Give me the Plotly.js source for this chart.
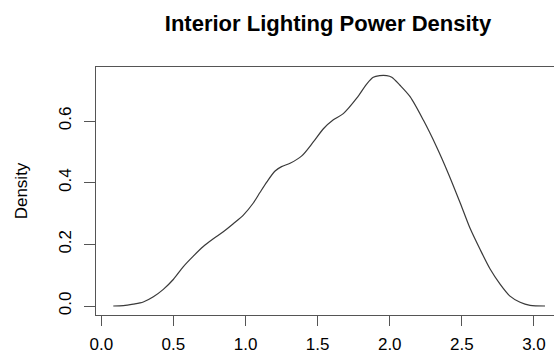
<!DOCTYPE html>
<html>
<head>
<meta charset="utf-8">
<script src="https://cdn.plot.ly/plotly-3.0.1.min.js"></script>
<style>html,body{margin:0;padding:0;background:#fff;overflow:hidden}</style>
</head>
<body>
<div id="chart" style="width:554px;height:358px"></div>
<script>
const chartTitle = "Interior Lighting Power Density";
const yTitle = "Density";
const xTickVals = [0, 0.5, 1, 1.5, 2, 2.5, 3];
const xTickText = ["0.0", "0.5", "1.0", "1.5", "2.0", "2.5", "3.0"];
const yTickVals = [0, 0.2, 0.4, 0.6];
const yTickText = ["0.0", "0.2", "0.4", "0.6"];
const densityX = [0.083, 0.153, 0.222, 0.291, 0.361, 0.430, 0.499, 0.569, 0.638, 0.707, 0.777, 0.846, 0.915, 0.985, 1.054, 1.100, 1.147, 1.205, 1.250, 1.309, 1.390, 1.470, 1.540, 1.609, 1.678, 1.771, 1.840, 1.886, 1.930, 1.979, 2.014, 2.071, 2.141, 2.233, 2.326, 2.406, 2.488, 2.557, 2.626, 2.696, 2.765, 2.834, 2.904, 2.973, 3.077];
const densityY = [0, 0.001, 0.006, 0.013, 0.030, 0.054, 0.086, 0.128, 0.162, 0.193, 0.218, 0.241, 0.267, 0.295, 0.334, 0.368, 0.402, 0.438, 0.452, 0.463, 0.487, 0.532, 0.575, 0.604, 0.624, 0.674, 0.720, 0.742, 0.747, 0.747, 0.742, 0.716, 0.679, 0.603, 0.515, 0.430, 0.335, 0.252, 0.184, 0.120, 0.071, 0.032, 0.012, 0.002, 0];

const font = "Liberation Sans, Arial, Helvetica, sans-serif";
const trace = {
  x: densityX, y: densityY, type: "scatter", mode: "lines",
  line: {color: "#3a3a3a", width: 1.2, shape: "spline", smoothing: 0.8},
  hoverinfo: "skip"
};
const layout = {
  width: 554, height: 358,
  margin: {l: 96, r: 0, t: 67, b: 43, pad: 0},
  paper_bgcolor: "#fff", plot_bgcolor: "#fff",
  showlegend: false,
  font: {family: font, size: 17, color: "#000"},
  title: {
    text: "<b>" + chartTitle + "</b>",
    font: {family: font, size: 22, color: "#000"},
    x: 328 / 554, xref: "container", xanchor: "center",
    y: 1 - 23 / 358, yref: "container", yanchor: "middle"
  },
  xaxis: {
    range: [-0.0368, 3.139], tickvals: xTickVals, ticktext: xTickText,
    showgrid: false, zeroline: false, showline: true, mirror: true,
    linecolor: "#555", linewidth: 1,
    ticks: "outside", ticklen: 10, tickcolor: "#555", tickwidth: 1,
    ticklabelstandoff: 4,
    tickfont: {family: font, size: 17, color: "#000"}
  },
  yaxis: {
    range: [-0.0292, 0.7752], tickvals: yTickVals, ticktext: yTickText,
    showgrid: false, zeroline: false, showline: true,
    linecolor: "#555", linewidth: 1,
    ticks: "outside", ticklen: 11, tickcolor: "#555", tickwidth: 1,
    tickangle: -90, ticklabelstandoff: 6,
    tickfont: {family: font, size: 17, color: "#000"},
    title: {text: yTitle, font: {family: font, size: 17, color: "#000"}, standoff: 24}
  }
};
Plotly.newPlot("chart", [trace], layout, {staticPlot: true, displayModeBar: false});
</script>
</body>
</html>
